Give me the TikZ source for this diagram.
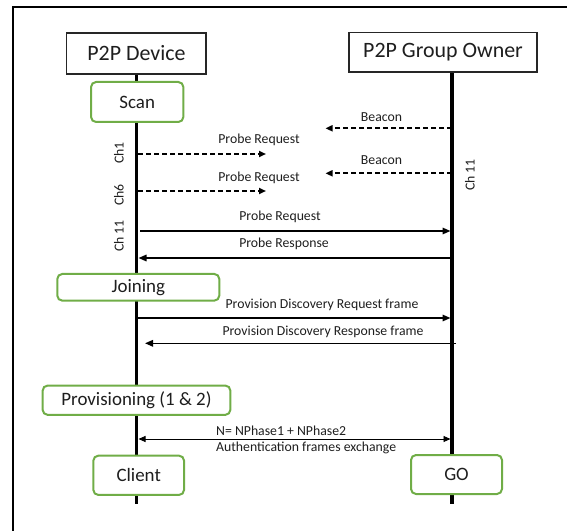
\documentclass[tikz,border=0pt]{standalone}
\usepackage{fontspec}
\setmainfont{Carlito}
\usetikzlibrary{arrows.meta}
\definecolor{boxgreen}{RGB}{112,173,71}
\definecolor{txt}{RGB}{30,30,30}
\begin{document}
\begin{tikzpicture}[x=1bp,y=-1bp,
  actor/.style={draw=black!85, line width=1.2bp, fill=white, inner sep=0pt, text=txt,
    font=\fontsize{22}{26}\selectfont},
  phase/.style={draw=boxgreen, line width=2bp, rounded corners=5bp, fill=white, inner sep=0pt, text=txt,
    font=\fontsize{19}{22}\selectfont},
  lbl/.style={font=\fontsize{13.8}{16}\selectfont, inner sep=0pt, text=txt},
  life/.style={line width=3.5bp, black},
  dmsg/.style={dash pattern=on 5bp off 3bp, line width=2bp, -{Triangle[length=7bp,width=6bp]}},
  msg/.style={line width=1.5bp, -{Triangle[length=8bp,width=6.5bp]}},
  bmsg/.style={line width=0.9bp, {Triangle[length=7bp,width=6bp]}-{Triangle[length=7bp,width=6bp]}}]
\useasboundingbox (0,0) rectangle (567,531);
% frame
\coordinate (fbl) at (13.3,531);
\coordinate (ftl) at (13.3,6.7);
\coordinate (ftr) at (567,6.7);
\draw[line width=1.8bp] (fbl) -- (ftl) -- (ftr);
% lifelines
\coordinate (devTop) at (136.3,74);
\coordinate (devBot) at (136.3,504);
\coordinate (goTop) at (452,72);
\coordinate (goBot) at (452,504);
\draw[life] (devTop) -- (devBot);
\draw[life] (goTop) -- (goBot);
% actors
\node[actor, minimum width=139.3bp, minimum height=41bp] (dev) at (136.4,53.5) {P2P Device};
\node[actor, minimum width=188bp, minimum height=39.5bp] (go) at (443,52.3) {P2P Group Owner};
% phases
\node[phase, minimum width=92.3bp, minimum height=40bp] (scan) at (137.2,102) {Scan};
\node[phase, minimum width=162bp, minimum height=26.7bp] (join) at (138.3,287.3) {Joining};
\node[phase, minimum width=187.7bp, minimum height=29.3bp] (prov) at (136.5,400.2) {Provisioning (1 \& 2)};
\node[phase, minimum width=90.7bp, minimum height=39.3bp] (client) at (138.7,475.3) {Client};
\node[phase, minimum width=91bp, minimum height=39bp] (gobox) at (456.5,474.5) {GO};
% channel labels
\node[lbl, rotate=90] (ch1) at (119,153) {Ch1};
\node[lbl, rotate=90] (ch6) at (119,195) {Ch6};
\node[lbl, rotate=90] (ch11a) at (119,236) {Ch 11};
\node[lbl, rotate=90] (ch11b) at (470,175) {Ch 11};
% message end points
\coordinate (b1s) at (452,128.3);   \coordinate (b1e) at (325.5,128.3);
\coordinate (p1s) at (138,154);     \coordinate (p1e) at (266,154);
\coordinate (b2s) at (452,173.3);   \coordinate (b2e) at (325.5,173.3);
\coordinate (p2s) at (138,191);     \coordinate (p2e) at (266,191);
\coordinate (p3s) at (140,231);     \coordinate (p3e) at (450.5,231);
\coordinate (r1s) at (452,258);     \coordinate (r1e) at (138.5,258);
\coordinate (d1s) at (137,318);     \coordinate (d1e) at (450.5,318);
\coordinate (d2s) at (456,343.3);   \coordinate (d2e) at (145,343.3);
\coordinate (a1s) at (138.5,439);   \coordinate (a1e) at (450.5,439);
% messages
\draw[dmsg] (b1s) -- (b1e);
\draw[dmsg] (p1s) -- (p1e);
\draw[dmsg] (b2s) -- (b2e);
\draw[dmsg] (p2s) -- (p2e);
\draw[msg] (p3s) -- (p3e);
\draw[msg] (r1s) -- (r1e);
\draw[msg] (d1s) -- (d1e);
\draw[msg] (d2s) -- (d2e);
\draw[bmsg] (a1s) -- (a1e);
% message labels
\node[lbl] (lb1) at (381.5,117) {Beacon};
\node[lbl] (lp1) at (259,140) {Probe Request};
\node[lbl] (lb2) at (381.5,160) {Beacon};
\node[lbl] (lp2) at (259,177.7) {Probe Request};
\node[lbl] (lp3) at (280,216.7) {Probe Request};
\node[lbl] (lr1) at (284,244.3) {Probe Response};
\node[lbl] (ld1) at (322,305) {Provision Discovery Request frame};
\node[lbl] (ld2) at (323,332.3) {Provision Discovery Response frame};
\node[lbl, anchor=west] (la1) at (216,431) {N= NPhase1 + NPhase2};
\node[lbl, anchor=west] (la2) at (216,447.7) {Authentication frames exchange};
\end{tikzpicture}
\end{document}
